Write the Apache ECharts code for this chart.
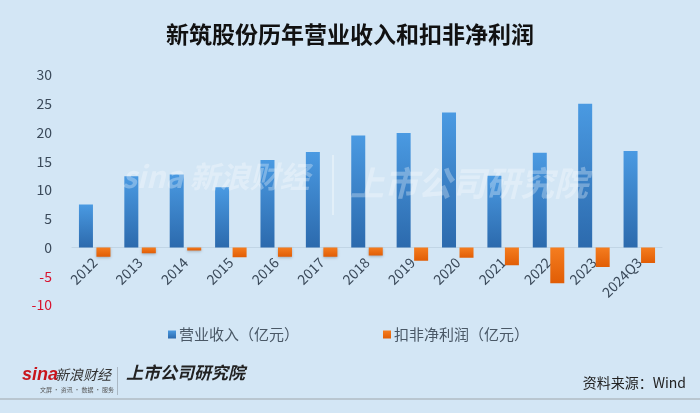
<!DOCTYPE html>
<html><head><meta charset="utf-8">
<script src="https://cdn.jsdelivr.net/npm/echarts@6/dist/echarts.min.js"></script>
<style>html,body{margin:0;padding:0;background:#d3e6f5;}#c{width:700px;height:413px;}</style>
</head><body><div id="c"></div>
<script>
const categories = ['2012','2013','2014','2015','2016','2017','2018','2019','2020','2021','2022','2023','2024Q3'];
const revenue = [7.5,12.4,12.7,10.5,15.2,16.6,19.5,19.9,23.5,12.5,16.5,25.0,16.8];
const netProfit = [-1.6,-1.0,-0.5,-1.7,-1.6,-1.6,-1.4,-2.3,-1.8,-3.1,-6.2,-3.4,-2.7];
const yTicks = [-10,-5,0,5,10,15,20,25,30];
const seriesNames = ['营业收入（亿元）','扣非净利润（亿元）'];

const chart = echarts.init(document.getElementById('c'));
const font = '"Noto Sans CJK SC","Noto Sans",sans-serif';
chart.setOption({
  backgroundColor: '#d3e6f5',
  title: {
    text: '新筑股份历年营业收入和扣非净利润',
    left: 'center', top: 18,
    textStyle: {fontFamily: font, fontSize: 23, fontWeight: 'bold', color: '#111'}
  },
  legend: {
    left: 163, top: 322, itemWidth: 8, itemHeight: 8, itemGap: 84,
    icon: 'rect',
    data: seriesNames,
    textStyle: {fontFamily: font, fontSize: 15, color: '#4a5866', padding: [0,0,0,-2]}
  },
  grid: {left: 72, right: 38, top: 75, bottom: 108},
  xAxis: {
    type: 'category', data: categories,
    axisLine: {show: true, onZero: true, lineStyle: {color: 'rgba(160,180,200,0.35)', width: 1}},
    axisTick: {show: false},
    axisLabel: {rotate: 45, fontFamily: font, fontSize: 14, color: '#3b4a5a', margin: -45, interval: 0}
  },
  yAxis: {
    type: 'value', min: yTicks[0], max: yTicks[yTicks.length-1], interval: 5,
    splitLine: {show: false}, axisLine: {show: false}, axisTick: {show: false},
    axisLabel: {
      fontFamily: font, fontSize: 14, margin: 20,
      color: v => v < 0 ? '#d8122e' : '#3b4a5a'
    }
  },
  series: [
    {
      name: seriesNames[0], type: 'bar', data: revenue, barWidth: 14, barGap: '25%',
      itemStyle: {
        color: new echarts.graphic.LinearGradient(0,0,0,1,[{offset:0,color:'#4a9ae2'},{offset:1,color:'#2c6aad'}]),
        shadowColor: 'rgba(0,0,0,0.25)', shadowBlur: 3, shadowOffsetY: 1
      }
    },
    {
      name: seriesNames[1], type: 'bar', data: netProfit, barWidth: 14,
      itemStyle: {
        color: new echarts.graphic.LinearGradient(0,0,0,1,[{offset:0,color:'#f57d1f'},{offset:1,color:'#e15d05'}]),
        shadowColor: 'rgba(0,0,0,0.25)', shadowBlur: 3, shadowOffsetY: 1
      }
    }
  ],
  graphic: [
    {type: 'text', left: 122, top: 162, z: 10, style: {text: 'sina 新浪财经', fontFamily: font, fontSize: 30, fontWeight: 'bold', fontStyle: 'italic', fill: 'rgba(255,255,255,0.3)'}},
    {type: 'rect', left: 332, top: 155, z: 10, shape: {width: 2, height: 60}, style: {fill: 'rgba(255,255,255,0.35)'}},
    {type: 'text', left: 350, top: 166, z: 10, style: {text: '上市公司研究院', fontFamily: font, fontSize: 34, fontWeight: 'bold', fontStyle: 'italic', fill: 'rgba(255,255,255,0.3)'}},
    {type: 'text', left: 22, top: 366, style: {text: 'sina', fontFamily: 'Liberation Sans', fontSize: 18, fontWeight: 'bold', fontStyle: 'italic', fill: '#c8161d'}},
    {type: 'text', left: 55, top: 368, style: {text: '新浪财经', fontFamily: font, fontSize: 14, fontStyle: 'italic', fill: '#333'}},
    {type: 'text', left: 40, top: 387, style: {text: '文屏 · 资讯 · 数据 · 服务', fontFamily: font, fontSize: 6, fill: '#555'}},
    {type: 'rect', left: 117, top: 367, shape: {width: 1, height: 28}, style: {fill: '#aab8c4'}},
    {type: 'text', left: 126, top: 364, style: {text: '上市公司研究院', fontFamily: font, fontSize: 17, fontWeight: 'bold', fontStyle: 'italic', fill: '#222'}},
    {type: 'text', right: 14, top: 376, style: {text: '资料来源：Wind', fontFamily: font, fontSize: 14, fill: '#222'}},
    {type: 'rect', left: 0, top: 398, shape: {width: 700, height: 2}, style: {fill: '#b9c6d0'}}
  ]
});
</script></body></html>
